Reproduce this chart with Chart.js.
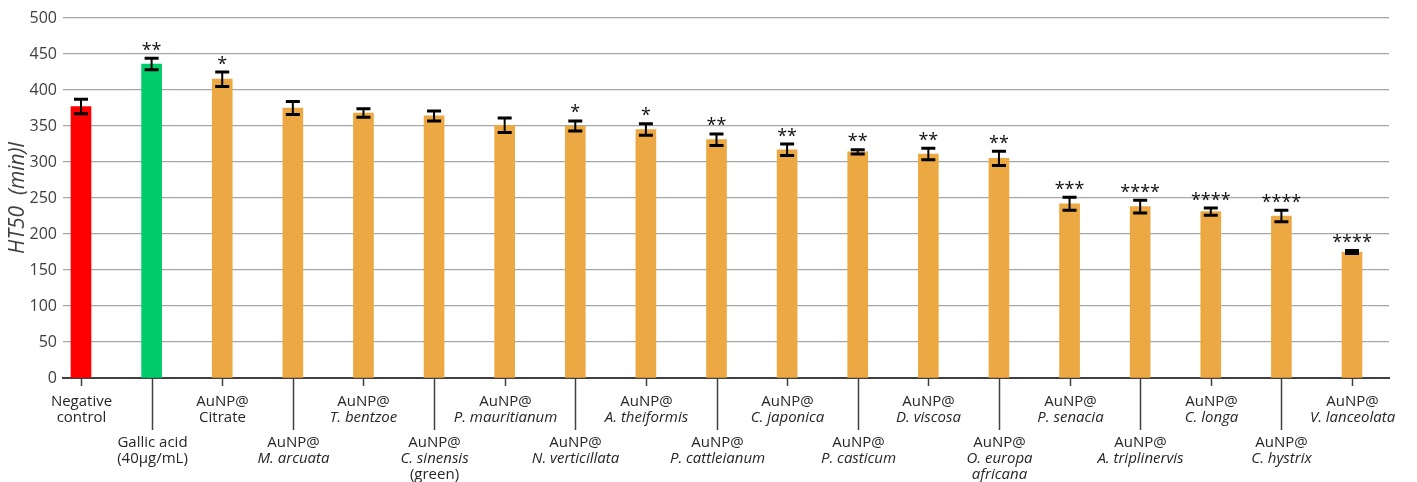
<!DOCTYPE html>
<html>
<head>
<meta charset="utf-8">
<script src="https://cdn.jsdelivr.net/npm/chart.js@4"></script>
<style>
  html, body { margin: 0; padding: 0; background: #fff; }
  canvas { display: block; }
</style>
</head>
<body>
<canvas id="htChart" width="1417" height="482"></canvas>
<script>
const categories = [
  ["Negative", "control"],
  ["Gallic acid", "(40µg/mL)"],
  ["AuNP@", "Citrate"],
  ["AuNP@", "M. arcuata"],
  ["AuNP@", "T. bentzoe"],
  ["AuNP@", "C. sinensis", "(green)"],
  ["AuNP@", "P. mauritianum"],
  ["AuNP@", "N. verticillata"],
  ["AuNP@", "A. theiformis"],
  ["AuNP@", "P. cattleianum"],
  ["AuNP@", "C. japonica"],
  ["AuNP@", "P. casticum"],
  ["AuNP@", "D. viscosa"],
  ["AuNP@", "O. europa", "africana"],
  ["AuNP@", "P. senacia"],
  ["AuNP@", "A. triplinervis"],
  ["AuNP@", "C. longa"],
  ["AuNP@", "C. hystrix"],
  ["AuNP@", "V. lanceolata"]
];
const ht50 = [377, 436, 415, 375, 368, 364, 351, 350, 345, 331, 317, 314, 311, 305, 242, 238, 231, 225, 175];
const sd = [10, 8, 10, 9, 6, 7, 10, 7, 8, 8, 8, 3, 8, 10, 9, 9, 5, 8, 2];
const stars = ["", "**", "*", "", "", "", "", "*", "*", "**", "**", "**", "**", "**", "***", "****", "****", "****", "****"];
const yTicks = [0, 50, 100, 150, 200, 250, 300, 350, 400, 450, 500];

const RED = "#FF0000", GREEN = "#00CC6C", ORANGE = "#ECA842";
const barColors = ht50.map((v, i) => i === 0 ? RED : (i === 1 ? GREEN : ORANGE));
const uprightLines = ["AuNP@", "Citrate", "(green)", "Negative", "control", "Gallic acid", "(40µg/mL)"];
const FONT = "'Open Sans', 'Noto Sans', sans-serif";

// error bars, significance stars, staggered category labels
const overlay = {
  id: "overlay",
  afterDatasetsDraw(chart) {
    const { ctx, scales: { x, y } } = chart;
    ctx.save();
    ctx.strokeStyle = "#000";
    ctx.fillStyle = "#111";
    ht50.forEach((v, i) => {
      const cx = x.getPixelForValue(i);
      const top = y.getPixelForValue(v + sd[i]);
      const bot = y.getPixelForValue(v - sd[i]);
      ctx.lineWidth = 2;
      ctx.beginPath();
      ctx.moveTo(cx, top);
      ctx.lineTo(cx, bot);
      ctx.stroke();
      ctx.lineWidth = 3;
      ctx.beginPath();
      ctx.moveTo(cx - 7, top); ctx.lineTo(cx + 7, top);
      ctx.moveTo(cx - 7, bot); ctx.lineTo(cx + 7, bot);
      ctx.stroke();

      if (stars[i]) {
        ctx.font = "18px " + FONT;
        const m = ctx.measureText(stars[i]);
        const mid = top - 12;
        ctx.textAlign = "center";
        ctx.textBaseline = "alphabetic";
        ctx.fillText(stars[i], cx, mid + (m.actualBoundingBoxAscent - m.actualBoundingBoxDescent) / 2);
      }
    });
    ctx.restore();
  },
  afterDraw(chart) {
    const { ctx, scales: { x }, chartArea } = chart;
    const base = chartArea.bottom;
    ctx.save();
    ctx.strokeStyle = "#404040";
    ctx.lineWidth = 1.5;
    ctx.fillStyle = "#262626";
    ctx.textAlign = "center";
    ctx.textBaseline = "middle";
    categories.forEach((lines, i) => {
      const cx = Math.round(x.getPixelForValue(i)) + 0.5;
      const lower = i % 2 === 1;
      ctx.beginPath();
      ctx.moveTo(cx, base);
      ctx.lineTo(cx, base + (lower ? 52 : 8));
      ctx.stroke();
      const start = lower ? 65 : 24;
      lines.forEach((t, k) => {
        const italic = !uprightLines.includes(t);
        ctx.font = (italic ? "italic " : "") + "15px " + FONT;
        ctx.fillText(t, cx, base + start + k * 16);
      });
    });
    ctx.restore();
  }
};

new Chart(document.getElementById("htChart"), {
  type: "bar",
  data: {
    datasets: [{
      data: ht50.map((v, i) => ({ x: i, y: v })),
      backgroundColor: barColors,
      barThickness: 20
    }]
  },
  options: {
    responsive: false,
    animation: false,
    layout: { padding: { top: 18, right: 28, bottom: 104, left: 0 } },
    plugins: {
      legend: { display: false },
      tooltip: { enabled: false }
    },
    scales: {
      x: {
        type: "linear",
        min: -0.255,
        max: 18.524,
        offset: false,
        ticks: { display: false },
        grid: { display: false, drawTicks: false },
        border: { display: true, color: "#404040", width: 2 },
        afterFit(scale) { scale.height = 0; }
      },
      y: {
        min: 0,
        max: 500,
        afterBuildTicks(scale) { scale.ticks = yTicks.map(v => ({ value: v })); },
        ticks: { color: "#404040", font: { family: FONT, size: 16 }, padding: 6 },
        grid: { color: "#A6A6A6", lineWidth: 1.3, drawTicks: false },
        border: { display: false },
        title: {
          display: true,
          text: "HT50  (min)l",
          color: "#404040",
          font: { family: FONT, size: 21, style: "italic" },
          padding: { top: 5, bottom: 0 }
        },
        afterFit(scale) { scale.width = 63; }
      }
    }
  },
  plugins: [overlay]
});
</script>
</body>
</html>
